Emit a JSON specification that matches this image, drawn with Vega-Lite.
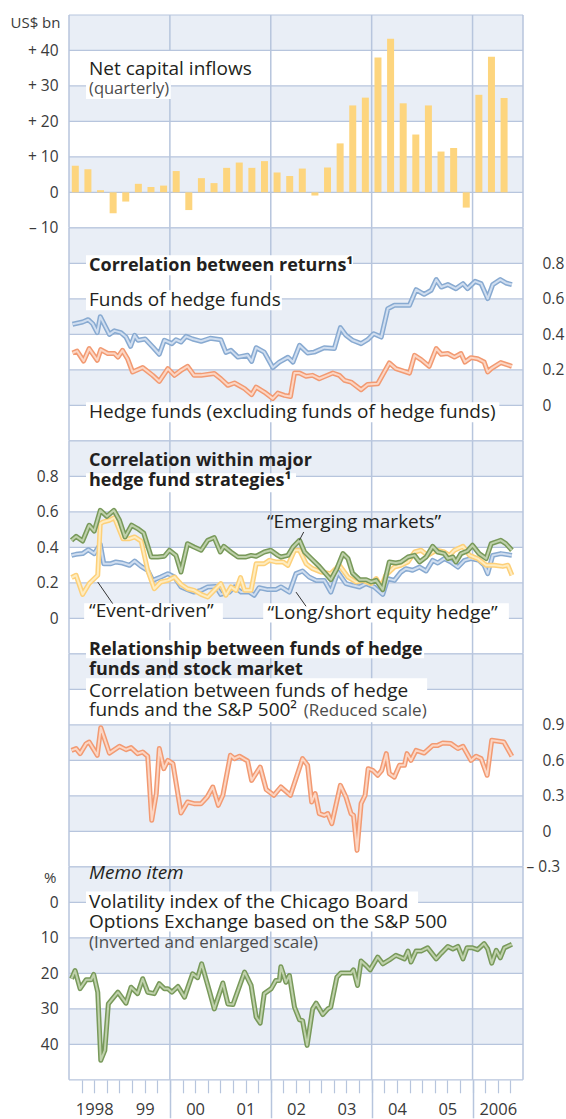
{
  "$schema": "https://vega.github.io/schema/vega-lite/v6.json",
  "padding": {"left": 9, "top": 14, "right": 3, "bottom": 0},
  "background": "white",
  "spacing": 0,
  "bounds": "flush",
  "config": {
    "view": {"stroke": null},
    "axis": {"labelFont": "Open Sans", "labelFontSize": 15.5, "labelColor": "#3a3a3a", "titleFont": "Open Sans", "titleFontSize": 15, "titleFontWeight": "normal", "titleColor": "#3a3a3a", "domain": false, "ticks": false, "grid": false},
    "text": {"font": "Open Sans"}
  },
  "datasets": {
    "one": [{}],
    "bars": [
      {"t": 1998.125, "v": 7.5}, {"t": 1998.375, "v": 6.5}, {"t": 1998.625, "v": 0.6}, {"t": 1998.875, "v": -5.9},
      {"t": 1999.125, "v": -2.6}, {"t": 1999.375, "v": 2.4}, {"t": 1999.625, "v": 1.5}, {"t": 1999.875, "v": 1.9},
      {"t": 2000.125, "v": 6.0}, {"t": 2000.375, "v": -5.0}, {"t": 2000.625, "v": 4.0}, {"t": 2000.875, "v": 2.6},
      {"t": 2001.125, "v": 6.9}, {"t": 2001.375, "v": 8.4}, {"t": 2001.625, "v": 6.9}, {"t": 2001.875, "v": 8.8},
      {"t": 2002.125, "v": 5.6}, {"t": 2002.375, "v": 4.6}, {"t": 2002.625, "v": 6.7}, {"t": 2002.875, "v": -0.9},
      {"t": 2003.125, "v": 7.0}, {"t": 2003.375, "v": 13.8}, {"t": 2003.625, "v": 24.5}, {"t": 2003.875, "v": 26.7},
      {"t": 2004.125, "v": 38.0}, {"t": 2004.375, "v": 43.3}, {"t": 2004.625, "v": 25.1}, {"t": 2004.875, "v": 16.3},
      {"t": 2005.125, "v": 24.5}, {"t": 2005.375, "v": 11.5}, {"t": 2005.625, "v": 12.5}, {"t": 2005.875, "v": -4.3},
      {"t": 2006.125, "v": 27.5}, {"t": 2006.375, "v": 38.2}, {"t": 2006.625, "v": 26.6}
    ],
    "p2": [
      {"s": "FoHF", "t": 1998.07, "v": 0.457}, {"s": "FoHF", "t": 1998.27, "v": 0.47}, {"s": "FoHF", "t": 1998.38, "v": 0.483}, {"s": "FoHF", "t": 1998.47, "v": 0.46}, {"s": "FoHF", "t": 1998.56, "v": 0.41}, {"s": "FoHF", "t": 1998.62, "v": 0.5}, {"s": "FoHF", "t": 1998.8, "v": 0.4}, {"s": "FoHF", "t": 1998.9, "v": 0.42}, {"s": "FoHF", "t": 1999.03, "v": 0.41}, {"s": "FoHF", "t": 1999.13, "v": 0.385}, {"s": "FoHF", "t": 1999.22, "v": 0.333}, {"s": "FoHF", "t": 1999.3, "v": 0.395}, {"s": "FoHF", "t": 1999.37, "v": 0.367}, {"s": "FoHF", "t": 1999.51, "v": 0.374}, {"s": "FoHF", "t": 1999.66, "v": 0.329}, {"s": "FoHF", "t": 1999.79, "v": 0.288}, {"s": "FoHF", "t": 1999.89, "v": 0.367}, {"s": "FoHF", "t": 2000.04, "v": 0.348}, {"s": "FoHF", "t": 2000.12, "v": 0.37}, {"s": "FoHF", "t": 2000.22, "v": 0.357}, {"s": "FoHF", "t": 2000.32, "v": 0.389}, {"s": "FoHF", "t": 2000.45, "v": 0.374}, {"s": "FoHF", "t": 2000.62, "v": 0.361}, {"s": "FoHF", "t": 2000.8, "v": 0.378}, {"s": "FoHF", "t": 2001.01, "v": 0.37}, {"s": "FoHF", "t": 2001.11, "v": 0.299}, {"s": "FoHF", "t": 2001.21, "v": 0.31}, {"s": "FoHF", "t": 2001.35, "v": 0.272}, {"s": "FoHF", "t": 2001.54, "v": 0.282}, {"s": "FoHF", "t": 2001.62, "v": 0.248}, {"s": "FoHF", "t": 2001.71, "v": 0.325}, {"s": "FoHF", "t": 2001.87, "v": 0.3}, {"s": "FoHF", "t": 2002.04, "v": 0.213}, {"s": "FoHF", "t": 2002.17, "v": 0.244}, {"s": "FoHF", "t": 2002.34, "v": 0.271}, {"s": "FoHF", "t": 2002.44, "v": 0.244}, {"s": "FoHF", "t": 2002.57, "v": 0.338}, {"s": "FoHF", "t": 2002.73, "v": 0.295}, {"s": "FoHF", "t": 2002.86, "v": 0.3}, {"s": "FoHF", "t": 2003.06, "v": 0.325}, {"s": "FoHF", "t": 2003.26, "v": 0.32}, {"s": "FoHF", "t": 2003.38, "v": 0.438}, {"s": "FoHF", "t": 2003.49, "v": 0.395}, {"s": "FoHF", "t": 2003.62, "v": 0.367}, {"s": "FoHF", "t": 2003.79, "v": 0.348}, {"s": "FoHF", "t": 2003.92, "v": 0.37}, {"s": "FoHF", "t": 2004.04, "v": 0.404}, {"s": "FoHF", "t": 2004.19, "v": 0.385}, {"s": "FoHF", "t": 2004.32, "v": 0.545}, {"s": "FoHF", "t": 2004.45, "v": 0.564}, {"s": "FoHF", "t": 2004.75, "v": 0.564}, {"s": "FoHF", "t": 2004.88, "v": 0.652}, {"s": "FoHF", "t": 2005.04, "v": 0.626}, {"s": "FoHF", "t": 2005.18, "v": 0.649}, {"s": "FoHF", "t": 2005.28, "v": 0.709}, {"s": "FoHF", "t": 2005.38, "v": 0.667}, {"s": "FoHF", "t": 2005.51, "v": 0.681}, {"s": "FoHF", "t": 2005.67, "v": 0.658}, {"s": "FoHF", "t": 2005.81, "v": 0.686}, {"s": "FoHF", "t": 2005.9, "v": 0.658}, {"s": "FoHF", "t": 2006.05, "v": 0.699}, {"s": "FoHF", "t": 2006.17, "v": 0.686}, {"s": "FoHF", "t": 2006.3, "v": 0.602}, {"s": "FoHF", "t": 2006.4, "v": 0.681}, {"s": "FoHF", "t": 2006.55, "v": 0.709}, {"s": "FoHF", "t": 2006.66, "v": 0.69}, {"s": "FoHF", "t": 2006.78, "v": 0.681},
      {"s": "HF", "t": 1998.07, "v": 0.295}, {"s": "HF", "t": 1998.16, "v": 0.306}, {"s": "HF", "t": 1998.29, "v": 0.25}, {"s": "HF", "t": 1998.4, "v": 0.32}, {"s": "HF", "t": 1998.56, "v": 0.254}, {"s": "HF", "t": 1998.63, "v": 0.314}, {"s": "HF", "t": 1998.77, "v": 0.292}, {"s": "HF", "t": 1998.9, "v": 0.292}, {"s": "HF", "t": 1998.97, "v": 0.272}, {"s": "HF", "t": 1999.06, "v": 0.31}, {"s": "HF", "t": 1999.16, "v": 0.263}, {"s": "HF", "t": 1999.26, "v": 0.188}, {"s": "HF", "t": 1999.46, "v": 0.213}, {"s": "HF", "t": 1999.66, "v": 0.169}, {"s": "HF", "t": 1999.79, "v": 0.135}, {"s": "HF", "t": 1999.96, "v": 0.207}, {"s": "HF", "t": 2000.09, "v": 0.169}, {"s": "HF", "t": 2000.22, "v": 0.197}, {"s": "HF", "t": 2000.35, "v": 0.22}, {"s": "HF", "t": 2000.48, "v": 0.169}, {"s": "HF", "t": 2000.62, "v": 0.169}, {"s": "HF", "t": 2000.88, "v": 0.179}, {"s": "HF", "t": 2001.01, "v": 0.15}, {"s": "HF", "t": 2001.15, "v": 0.113}, {"s": "HF", "t": 2001.28, "v": 0.126}, {"s": "HF", "t": 2001.48, "v": 0.094}, {"s": "HF", "t": 2001.62, "v": 0.06}, {"s": "HF", "t": 2001.71, "v": 0.103}, {"s": "HF", "t": 2001.87, "v": 0.075}, {"s": "HF", "t": 2002.04, "v": 0.038}, {"s": "HF", "t": 2002.14, "v": 0.069}, {"s": "HF", "t": 2002.27, "v": 0.056}, {"s": "HF", "t": 2002.39, "v": 0.05}, {"s": "HF", "t": 2002.47, "v": 0.182}, {"s": "HF", "t": 2002.57, "v": 0.182}, {"s": "HF", "t": 2002.7, "v": 0.164}, {"s": "HF", "t": 2002.83, "v": 0.169}, {"s": "HF", "t": 2002.96, "v": 0.15}, {"s": "HF", "t": 2003.23, "v": 0.182}, {"s": "HF", "t": 2003.36, "v": 0.169}, {"s": "HF", "t": 2003.46, "v": 0.141}, {"s": "HF", "t": 2003.59, "v": 0.131}, {"s": "HF", "t": 2003.79, "v": 0.088}, {"s": "HF", "t": 2003.92, "v": 0.118}, {"s": "HF", "t": 2004.12, "v": 0.122}, {"s": "HF", "t": 2004.35, "v": 0.239}, {"s": "HF", "t": 2004.48, "v": 0.207}, {"s": "HF", "t": 2004.75, "v": 0.182}, {"s": "HF", "t": 2004.85, "v": 0.282}, {"s": "HF", "t": 2004.98, "v": 0.258}, {"s": "HF", "t": 2005.14, "v": 0.22}, {"s": "HF", "t": 2005.28, "v": 0.32}, {"s": "HF", "t": 2005.38, "v": 0.288}, {"s": "HF", "t": 2005.51, "v": 0.292}, {"s": "HF", "t": 2005.64, "v": 0.272}, {"s": "HF", "t": 2005.77, "v": 0.292}, {"s": "HF", "t": 2005.85, "v": 0.244}, {"s": "HF", "t": 2005.97, "v": 0.269}, {"s": "HF", "t": 2006.1, "v": 0.263}, {"s": "HF", "t": 2006.23, "v": 0.244}, {"s": "HF", "t": 2006.3, "v": 0.188}, {"s": "HF", "t": 2006.37, "v": 0.207}, {"s": "HF", "t": 2006.56, "v": 0.241}, {"s": "HF", "t": 2006.78, "v": 0.22}
    ],
    "p3": [
      {"s": "LS", "t": 1998.05, "v": 0.355}, {"s": "LS", "t": 1998.14, "v": 0.361}, {"s": "LS", "t": 1998.27, "v": 0.365}, {"s": "LS", "t": 1998.38, "v": 0.387}, {"s": "LS", "t": 1998.5, "v": 0.365}, {"s": "LS", "t": 1998.62, "v": 0.417}, {"s": "LS", "t": 1998.69, "v": 0.308}, {"s": "LS", "t": 1998.83, "v": 0.308}, {"s": "LS", "t": 1998.93, "v": 0.318}, {"s": "LS", "t": 1999.06, "v": 0.312}, {"s": "LS", "t": 1999.2, "v": 0.299}, {"s": "LS", "t": 1999.3, "v": 0.323}, {"s": "LS", "t": 1999.43, "v": 0.293}, {"s": "LS", "t": 1999.56, "v": 0.271}, {"s": "LS", "t": 1999.66, "v": 0.214}, {"s": "LS", "t": 1999.82, "v": 0.233}, {"s": "LS", "t": 1999.96, "v": 0.252}, {"s": "LS", "t": 2000.09, "v": 0.233}, {"s": "LS", "t": 2000.22, "v": 0.177}, {"s": "LS", "t": 2000.35, "v": 0.162}, {"s": "LS", "t": 2000.48, "v": 0.148}, {"s": "LS", "t": 2000.62, "v": 0.158}, {"s": "LS", "t": 2000.75, "v": 0.177}, {"s": "LS", "t": 2000.91, "v": 0.18}, {"s": "LS", "t": 2001.01, "v": 0.135}, {"s": "LS", "t": 2001.18, "v": 0.148}, {"s": "LS", "t": 2001.28, "v": 0.177}, {"s": "LS", "t": 2001.41, "v": 0.148}, {"s": "LS", "t": 2001.58, "v": 0.148}, {"s": "LS", "t": 2001.67, "v": 0.13}, {"s": "LS", "t": 2001.77, "v": 0.173}, {"s": "LS", "t": 2001.94, "v": 0.162}, {"s": "LS", "t": 2002.1, "v": 0.162}, {"s": "LS", "t": 2002.2, "v": 0.177}, {"s": "LS", "t": 2002.37, "v": 0.148}, {"s": "LS", "t": 2002.5, "v": 0.252}, {"s": "LS", "t": 2002.63, "v": 0.267}, {"s": "LS", "t": 2002.76, "v": 0.233}, {"s": "LS", "t": 2002.9, "v": 0.214}, {"s": "LS", "t": 2003.06, "v": 0.214}, {"s": "LS", "t": 2003.19, "v": 0.148}, {"s": "LS", "t": 2003.33, "v": 0.261}, {"s": "LS", "t": 2003.49, "v": 0.196}, {"s": "LS", "t": 2003.62, "v": 0.186}, {"s": "LS", "t": 2003.76, "v": 0.177}, {"s": "LS", "t": 2003.89, "v": 0.196}, {"s": "LS", "t": 2004.05, "v": 0.177}, {"s": "LS", "t": 2004.22, "v": 0.135}, {"s": "LS", "t": 2004.32, "v": 0.224}, {"s": "LS", "t": 2004.45, "v": 0.214}, {"s": "LS", "t": 2004.58, "v": 0.261}, {"s": "LS", "t": 2004.68, "v": 0.28}, {"s": "LS", "t": 2004.81, "v": 0.271}, {"s": "LS", "t": 2004.95, "v": 0.289}, {"s": "LS", "t": 2005.08, "v": 0.267}, {"s": "LS", "t": 2005.21, "v": 0.327}, {"s": "LS", "t": 2005.31, "v": 0.312}, {"s": "LS", "t": 2005.44, "v": 0.337}, {"s": "LS", "t": 2005.57, "v": 0.318}, {"s": "LS", "t": 2005.71, "v": 0.289}, {"s": "LS", "t": 2005.84, "v": 0.327}, {"s": "LS", "t": 2005.97, "v": 0.337}, {"s": "LS", "t": 2006.13, "v": 0.327}, {"s": "LS", "t": 2006.23, "v": 0.299}, {"s": "LS", "t": 2006.3, "v": 0.252}, {"s": "LS", "t": 2006.4, "v": 0.355}, {"s": "LS", "t": 2006.56, "v": 0.365}, {"s": "LS", "t": 2006.78, "v": 0.355},
      {"s": "ED", "t": 1998.05, "v": 0.23}, {"s": "ED", "t": 1998.14, "v": 0.243}, {"s": "ED", "t": 1998.27, "v": 0.135}, {"s": "ED", "t": 1998.4, "v": 0.196}, {"s": "ED", "t": 1998.57, "v": 0.243}, {"s": "ED", "t": 1998.62, "v": 0.534}, {"s": "ED", "t": 1998.67, "v": 0.543}, {"s": "ED", "t": 1998.8, "v": 0.553}, {"s": "ED", "t": 1998.9, "v": 0.568}, {"s": "ED", "t": 1999.07, "v": 0.449}, {"s": "ED", "t": 1999.2, "v": 0.449}, {"s": "ED", "t": 1999.3, "v": 0.459}, {"s": "ED", "t": 1999.43, "v": 0.436}, {"s": "ED", "t": 1999.56, "v": 0.271}, {"s": "ED", "t": 1999.69, "v": 0.167}, {"s": "ED", "t": 1999.82, "v": 0.205}, {"s": "ED", "t": 1999.96, "v": 0.214}, {"s": "ED", "t": 2000.09, "v": 0.233}, {"s": "ED", "t": 2000.22, "v": 0.192}, {"s": "ED", "t": 2000.35, "v": 0.167}, {"s": "ED", "t": 2000.48, "v": 0.158}, {"s": "ED", "t": 2000.62, "v": 0.135}, {"s": "ED", "t": 2000.75, "v": 0.12}, {"s": "ED", "t": 2000.88, "v": 0.158}, {"s": "ED", "t": 2001.01, "v": 0.196}, {"s": "ED", "t": 2001.11, "v": 0.13}, {"s": "ED", "t": 2001.21, "v": 0.177}, {"s": "ED", "t": 2001.31, "v": 0.158}, {"s": "ED", "t": 2001.4, "v": 0.23}, {"s": "ED", "t": 2001.48, "v": 0.158}, {"s": "ED", "t": 2001.61, "v": 0.158}, {"s": "ED", "t": 2001.71, "v": 0.308}, {"s": "ED", "t": 2001.87, "v": 0.308}, {"s": "ED", "t": 2001.97, "v": 0.327}, {"s": "ED", "t": 2002.1, "v": 0.318}, {"s": "ED", "t": 2002.24, "v": 0.318}, {"s": "ED", "t": 2002.34, "v": 0.299}, {"s": "ED", "t": 2002.47, "v": 0.384}, {"s": "ED", "t": 2002.57, "v": 0.384}, {"s": "ED", "t": 2002.7, "v": 0.308}, {"s": "ED", "t": 2002.83, "v": 0.28}, {"s": "ED", "t": 2003.0, "v": 0.261}, {"s": "ED", "t": 2003.19, "v": 0.252}, {"s": "ED", "t": 2003.36, "v": 0.299}, {"s": "ED", "t": 2003.53, "v": 0.233}, {"s": "ED", "t": 2003.69, "v": 0.205}, {"s": "ED", "t": 2003.82, "v": 0.214}, {"s": "ED", "t": 2003.99, "v": 0.196}, {"s": "ED", "t": 2004.09, "v": 0.224}, {"s": "ED", "t": 2004.19, "v": 0.177}, {"s": "ED", "t": 2004.28, "v": 0.243}, {"s": "ED", "t": 2004.45, "v": 0.289}, {"s": "ED", "t": 2004.58, "v": 0.299}, {"s": "ED", "t": 2004.72, "v": 0.318}, {"s": "ED", "t": 2004.85, "v": 0.374}, {"s": "ED", "t": 2004.98, "v": 0.384}, {"s": "ED", "t": 2005.11, "v": 0.355}, {"s": "ED", "t": 2005.28, "v": 0.384}, {"s": "ED", "t": 2005.44, "v": 0.374}, {"s": "ED", "t": 2005.54, "v": 0.355}, {"s": "ED", "t": 2005.64, "v": 0.384}, {"s": "ED", "t": 2005.81, "v": 0.406}, {"s": "ED", "t": 2005.94, "v": 0.355}, {"s": "ED", "t": 2006.1, "v": 0.337}, {"s": "ED", "t": 2006.27, "v": 0.299}, {"s": "ED", "t": 2006.43, "v": 0.299}, {"s": "ED", "t": 2006.6, "v": 0.293}, {"s": "ED", "t": 2006.7, "v": 0.299}, {"s": "ED", "t": 2006.78, "v": 0.243},
      {"s": "EM", "t": 1998.05, "v": 0.44}, {"s": "EM", "t": 1998.14, "v": 0.462}, {"s": "EM", "t": 1998.27, "v": 0.436}, {"s": "EM", "t": 1998.4, "v": 0.525}, {"s": "EM", "t": 1998.5, "v": 0.492}, {"s": "EM", "t": 1998.62, "v": 0.609}, {"s": "EM", "t": 1998.75, "v": 0.575}, {"s": "EM", "t": 1998.89, "v": 0.609}, {"s": "EM", "t": 1999.0, "v": 0.553}, {"s": "EM", "t": 1999.11, "v": 0.459}, {"s": "EM", "t": 1999.24, "v": 0.525}, {"s": "EM", "t": 1999.36, "v": 0.506}, {"s": "EM", "t": 1999.48, "v": 0.481}, {"s": "EM", "t": 1999.63, "v": 0.346}, {"s": "EM", "t": 1999.76, "v": 0.346}, {"s": "EM", "t": 1999.89, "v": 0.35}, {"s": "EM", "t": 1999.99, "v": 0.384}, {"s": "EM", "t": 2000.12, "v": 0.355}, {"s": "EM", "t": 2000.22, "v": 0.261}, {"s": "EM", "t": 2000.35, "v": 0.421}, {"s": "EM", "t": 2000.48, "v": 0.402}, {"s": "EM", "t": 2000.62, "v": 0.384}, {"s": "EM", "t": 2000.75, "v": 0.44}, {"s": "EM", "t": 2000.88, "v": 0.455}, {"s": "EM", "t": 2001.0, "v": 0.374}, {"s": "EM", "t": 2001.07, "v": 0.406}, {"s": "EM", "t": 2001.21, "v": 0.374}, {"s": "EM", "t": 2001.35, "v": 0.346}, {"s": "EM", "t": 2001.51, "v": 0.346}, {"s": "EM", "t": 2001.61, "v": 0.355}, {"s": "EM", "t": 2001.71, "v": 0.35}, {"s": "EM", "t": 2001.87, "v": 0.374}, {"s": "EM", "t": 2002.0, "v": 0.384}, {"s": "EM", "t": 2002.14, "v": 0.355}, {"s": "EM", "t": 2002.2, "v": 0.346}, {"s": "EM", "t": 2002.34, "v": 0.355}, {"s": "EM", "t": 2002.44, "v": 0.402}, {"s": "EM", "t": 2002.57, "v": 0.44}, {"s": "EM", "t": 2002.67, "v": 0.374}, {"s": "EM", "t": 2002.8, "v": 0.337}, {"s": "EM", "t": 2002.96, "v": 0.293}, {"s": "EM", "t": 2003.19, "v": 0.218}, {"s": "EM", "t": 2003.31, "v": 0.28}, {"s": "EM", "t": 2003.43, "v": 0.365}, {"s": "EM", "t": 2003.53, "v": 0.337}, {"s": "EM", "t": 2003.62, "v": 0.255}, {"s": "EM", "t": 2003.76, "v": 0.218}, {"s": "EM", "t": 2003.89, "v": 0.218}, {"s": "EM", "t": 2003.99, "v": 0.205}, {"s": "EM", "t": 2004.09, "v": 0.214}, {"s": "EM", "t": 2004.22, "v": 0.162}, {"s": "EM", "t": 2004.35, "v": 0.318}, {"s": "EM", "t": 2004.48, "v": 0.312}, {"s": "EM", "t": 2004.58, "v": 0.318}, {"s": "EM", "t": 2004.72, "v": 0.346}, {"s": "EM", "t": 2004.85, "v": 0.355}, {"s": "EM", "t": 2004.95, "v": 0.318}, {"s": "EM", "t": 2005.08, "v": 0.346}, {"s": "EM", "t": 2005.21, "v": 0.406}, {"s": "EM", "t": 2005.31, "v": 0.374}, {"s": "EM", "t": 2005.44, "v": 0.365}, {"s": "EM", "t": 2005.51, "v": 0.337}, {"s": "EM", "t": 2005.61, "v": 0.346}, {"s": "EM", "t": 2005.67, "v": 0.318}, {"s": "EM", "t": 2005.77, "v": 0.365}, {"s": "EM", "t": 2005.9, "v": 0.38}, {"s": "EM", "t": 2006.0, "v": 0.412}, {"s": "EM", "t": 2006.13, "v": 0.365}, {"s": "EM", "t": 2006.27, "v": 0.337}, {"s": "EM", "t": 2006.37, "v": 0.421}, {"s": "EM", "t": 2006.56, "v": 0.44}, {"s": "EM", "t": 2006.66, "v": 0.421}, {"s": "EM", "t": 2006.78, "v": 0.384}
    ],
    "p4": [
      {"t": 1998.05, "v": 0.685}, {"t": 1998.14, "v": 0.7}, {"t": 1998.22, "v": 0.657}, {"t": 1998.34, "v": 0.742}, {"t": 1998.4, "v": 0.755}, {"t": 1998.56, "v": 0.643}, {"t": 1998.63, "v": 0.877}, {"t": 1998.8, "v": 0.662}, {"t": 1999.0, "v": 0.719}, {"t": 1999.13, "v": 0.691}, {"t": 1999.23, "v": 0.708}, {"t": 1999.36, "v": 0.657}, {"t": 1999.46, "v": 0.671}, {"t": 1999.56, "v": 0.635}, {"t": 1999.64, "v": 0.093}, {"t": 1999.73, "v": 0.319}, {"t": 1999.79, "v": 0.7}, {"t": 1999.88, "v": 0.53}, {"t": 1999.96, "v": 0.6}, {"t": 2000.06, "v": 0.573}, {"t": 2000.22, "v": 0.155}, {"t": 2000.35, "v": 0.248}, {"t": 2000.48, "v": 0.234}, {"t": 2000.62, "v": 0.234}, {"t": 2000.74, "v": 0.29}, {"t": 2000.85, "v": 0.375}, {"t": 2000.96, "v": 0.22}, {"t": 2001.05, "v": 0.305}, {"t": 2001.2, "v": 0.643}, {"t": 2001.28, "v": 0.615}, {"t": 2001.38, "v": 0.635}, {"t": 2001.54, "v": 0.595}, {"t": 2001.62, "v": 0.431}, {"t": 2001.79, "v": 0.544}, {"t": 2001.91, "v": 0.353}, {"t": 2002.06, "v": 0.305}, {"t": 2002.2, "v": 0.375}, {"t": 2002.39, "v": 0.305}, {"t": 2002.63, "v": 0.615}, {"t": 2002.73, "v": 0.558}, {"t": 2002.81, "v": 0.248}, {"t": 2002.88, "v": 0.319}, {"t": 2002.96, "v": 0.15}, {"t": 2003.06, "v": 0.135}, {"t": 2003.13, "v": 0.15}, {"t": 2003.21, "v": 0.065}, {"t": 2003.38, "v": 0.389}, {"t": 2003.49, "v": 0.29}, {"t": 2003.59, "v": 0.15}, {"t": 2003.64, "v": 0.135}, {"t": 2003.71, "v": -0.161}, {"t": 2003.79, "v": 0.234}, {"t": 2003.87, "v": 0.305}, {"t": 2003.93, "v": 0.53}, {"t": 2004.02, "v": 0.516}, {"t": 2004.12, "v": 0.474}, {"t": 2004.2, "v": 0.516}, {"t": 2004.29, "v": 0.657}, {"t": 2004.35, "v": 0.488}, {"t": 2004.45, "v": 0.459}, {"t": 2004.55, "v": 0.558}, {"t": 2004.65, "v": 0.558}, {"t": 2004.7, "v": 0.657}, {"t": 2004.78, "v": 0.6}, {"t": 2004.88, "v": 0.685}, {"t": 2005.04, "v": 0.662}, {"t": 2005.21, "v": 0.727}, {"t": 2005.31, "v": 0.727}, {"t": 2005.41, "v": 0.747}, {"t": 2005.57, "v": 0.742}, {"t": 2005.71, "v": 0.7}, {"t": 2005.81, "v": 0.719}, {"t": 2005.97, "v": 0.6}, {"t": 2006.07, "v": 0.635}, {"t": 2006.17, "v": 0.615}, {"t": 2006.29, "v": 0.474}, {"t": 2006.38, "v": 0.77}, {"t": 2006.62, "v": 0.755}, {"t": 2006.78, "v": 0.635}
    ],
    "p5": [
      {"t": 1998.05, "v": 21.5}, {"t": 1998.12, "v": 19.2}, {"t": 1998.22, "v": 24.3}, {"t": 1998.34, "v": 21.8}, {"t": 1998.44, "v": 21.8}, {"t": 1998.49, "v": 20.3}, {"t": 1998.57, "v": 25.3}, {"t": 1998.63, "v": 44.5}, {"t": 1998.71, "v": 41.7}, {"t": 1998.78, "v": 28.6}, {"t": 1998.97, "v": 25.3}, {"t": 1999.13, "v": 28.4}, {"t": 1999.23, "v": 23.9}, {"t": 1999.36, "v": 25.7}, {"t": 1999.46, "v": 21.5}, {"t": 1999.56, "v": 25.3}, {"t": 1999.69, "v": 25.7}, {"t": 1999.79, "v": 22.9}, {"t": 1999.89, "v": 24.3}, {"t": 1999.96, "v": 24.3}, {"t": 2000.04, "v": 25.3}, {"t": 2000.16, "v": 23.7}, {"t": 2000.29, "v": 26.7}, {"t": 2000.45, "v": 20.1}, {"t": 2000.55, "v": 21.2}, {"t": 2000.63, "v": 17.3}, {"t": 2000.78, "v": 24.8}, {"t": 2000.88, "v": 30.0}, {"t": 2001.05, "v": 22.7}, {"t": 2001.15, "v": 28.6}, {"t": 2001.25, "v": 28.8}, {"t": 2001.48, "v": 19.6}, {"t": 2001.61, "v": 23.4}, {"t": 2001.71, "v": 32.3}, {"t": 2001.79, "v": 34.0}, {"t": 2001.87, "v": 25.7}, {"t": 2002.01, "v": 24.3}, {"t": 2002.1, "v": 22.0}, {"t": 2002.17, "v": 22.0}, {"t": 2002.2, "v": 18.1}, {"t": 2002.3, "v": 22.5}, {"t": 2002.37, "v": 20.6}, {"t": 2002.47, "v": 29.5}, {"t": 2002.57, "v": 33.1}, {"t": 2002.63, "v": 33.3}, {"t": 2002.72, "v": 40.3}, {"t": 2002.83, "v": 30.0}, {"t": 2002.9, "v": 28.4}, {"t": 2003.03, "v": 31.6}, {"t": 2003.13, "v": 30.0}, {"t": 2003.19, "v": 29.5}, {"t": 2003.31, "v": 21.1}, {"t": 2003.39, "v": 19.9}, {"t": 2003.59, "v": 19.9}, {"t": 2003.64, "v": 19.0}, {"t": 2003.72, "v": 23.4}, {"t": 2003.79, "v": 16.5}, {"t": 2003.89, "v": 17.8}, {"t": 2003.97, "v": 19.0}, {"t": 2004.12, "v": 15.4}, {"t": 2004.22, "v": 17.3}, {"t": 2004.35, "v": 16.2}, {"t": 2004.48, "v": 14.9}, {"t": 2004.65, "v": 15.9}, {"t": 2004.72, "v": 13.7}, {"t": 2004.78, "v": 16.8}, {"t": 2004.88, "v": 13.7}, {"t": 2004.98, "v": 13.7}, {"t": 2005.11, "v": 12.8}, {"t": 2005.28, "v": 15.9}, {"t": 2005.38, "v": 14.3}, {"t": 2005.51, "v": 12.4}, {"t": 2005.61, "v": 13.1}, {"t": 2005.71, "v": 12.4}, {"t": 2005.81, "v": 15.9}, {"t": 2005.89, "v": 12.8}, {"t": 2006.0, "v": 12.8}, {"t": 2006.1, "v": 13.3}, {"t": 2006.23, "v": 11.6}, {"t": 2006.3, "v": 13.1}, {"t": 2006.38, "v": 17.1}, {"t": 2006.47, "v": 13.5}, {"t": 2006.55, "v": 15.6}, {"t": 2006.63, "v": 12.8}, {"t": 2006.78, "v": 11.8}
    ],
    "vgrid": [{"t": 1998}, {"t": 2000}, {"t": 2002}, {"t": 2004}, {"t": 2006}, {"t": 2007}]
  },
  "vconcat": [
    {
      "width": 454, "height": 212.8,
      "layer": [
        {"data": {"values": [{"lo": 40, "hi": 50}, {"lo": 20, "hi": 30}, {"lo": 0, "hi": 10}]}, "mark": {"type": "rect", "fill": "#e9eef6"},
         "encoding": {"x": {"datum": 1998, "type": "quantitative", "scale": {"domain": [1998, 2007], "nice": false, "zero": false, "padding": 0}, "axis": null}, "x2": {"datum": 2007},
                      "y": {"field": "lo", "type": "quantitative", "scale": {"domain": [-10, 50], "nice": false, "zero": false}}, "y2": {"field": "hi"}}},
        {"data": {"values": [{"v": -10}, {"v": 0}, {"v": 10}, {"v": 20}, {"v": 30}, {"v": 40}, {"v": 50}]}, "mark": {"type": "rule", "color": "#b7c5dd", "strokeWidth": 1.2},
         "encoding": {"y": {"field": "v", "type": "quantitative", "scale": {"domain": [-10, 50], "nice": false, "zero": false},
           "axis": {"orient": "left", "values": [-10, 0, 10, 20, 30, 40], "labelPadding": 11, "labelExpr": "datum.value > 0 ? '+ ' + datum.value : (datum.value < 0 ? '– ' + (-datum.value) : '0')", "title": "US$ bn", "titleAngle": 0, "titleAlign": "right", "titleBaseline": "middle", "titleX": -9, "titleY": 7}}}},
        {"data": {"name": "vgrid"}, "mark": {"type": "rule", "color": "#b7c5dd", "strokeWidth": 1.5},
         "encoding": {"x": {"field": "t", "type": "quantitative", "scale": {"domain": [1998, 2007], "nice": false, "zero": false, "padding": 0}, "axis": null}}},
        {"data": {"name": "one"}, "mark": {"type": "rect", "fill": "white"},
         "encoding": {"x": {"datum": 1998.337, "type": "quantitative", "scale": {"domain": [1998, 2007], "nice": false, "zero": false, "padding": 0}, "axis": null}, "x2": {"datum": 2001.72},
                      "y": {"datum": 31.96, "type": "quantitative", "scale": {"domain": [-10, 50], "nice": false, "zero": false}}, "y2": {"datum": 39.85}}},
        {"data": {"name": "one"}, "mark": {"type": "rect", "fill": "white"},
         "encoding": {"x": {"datum": 1998.337, "type": "quantitative", "scale": {"domain": [1998, 2007], "nice": false, "zero": false, "padding": 0}, "axis": null}, "x2": {"datum": 2000.02},
                      "y": {"datum": 26.32, "type": "quantitative", "scale": {"domain": [-10, 50], "nice": false, "zero": false}}, "y2": {"datum": 31.96}}},
        {"data": {"name": "bars"}, "mark": {"type": "bar", "color": "#fdd57e", "size": 7},
         "encoding": {"x": {"field": "t", "type": "quantitative", "scale": {"domain": [1998, 2007], "nice": false, "zero": false, "padding": 0}, "axis": null},
                      "y": {"field": "v", "type": "quantitative", "scale": {"domain": [-10, 50], "nice": false, "zero": false}}}},
        {"data": {"name": "one"}, "mark": {"type": "text", "align": "left", "baseline": "alphabetic", "fontSize": 19, "color": "#231f20", "text": "Net capital inflows"},
         "encoding": {"x": {"datum": 1998.397, "type": "quantitative", "scale": {"domain": [1998, 2007], "nice": false, "zero": false, "padding": 0}, "axis": null},
                      "y": {"datum": 33.0, "type": "quantitative", "scale": {"domain": [-10, 50], "nice": false, "zero": false}}}},
        {"data": {"name": "one"}, "mark": {"type": "text", "align": "left", "baseline": "alphabetic", "fontSize": 16.5, "color": "#4d4d4d", "text": "(quarterly)"},
         "encoding": {"x": {"datum": 1998.397, "type": "quantitative", "scale": {"domain": [1998, 2007], "nice": false, "zero": false, "padding": 0}, "axis": null},
                      "y": {"datum": 27.6, "type": "quantitative", "scale": {"domain": [-10, 50], "nice": false, "zero": false}}}}
      ]
    },
    {
      "width": 454, "height": 212.8,
      "layer": [
        {"data": {"values": [{"lo": 0.8, "hi": 1.0}, {"lo": 0.4, "hi": 0.6}, {"lo": 0.0, "hi": 0.2}]}, "mark": {"type": "rect", "fill": "#e9eef6"},
         "encoding": {"x": {"datum": 1998, "type": "quantitative", "scale": {"domain": [1998, 2007], "nice": false, "zero": false, "padding": 0}, "axis": null}, "x2": {"datum": 2007},
                      "y": {"field": "lo", "type": "quantitative", "scale": {"domain": [-0.2, 1.0], "nice": false, "zero": false}}, "y2": {"field": "hi"}}},
        {"data": {"values": [{"v": -0.2}, {"v": 0}, {"v": 0.2}, {"v": 0.4}, {"v": 0.6}, {"v": 0.8}, {"v": 1.0}]}, "mark": {"type": "rule", "color": "#b7c5dd", "strokeWidth": 1.2},
         "encoding": {"y": {"field": "v", "type": "quantitative", "scale": {"domain": [-0.2, 1.0], "nice": false, "zero": false},
           "axis": {"orient": "right", "values": [0, 0.2, 0.4, 0.6, 0.8], "labelAlign": "left", "labelPadding": 19, "labelExpr": "datum.value == 0 ? '0' : format(datum.value, '.1f')", "title": null}}}},
        {"data": {"name": "vgrid"}, "mark": {"type": "rule", "color": "#b7c5dd", "strokeWidth": 1.5},
         "encoding": {"x": {"field": "t", "type": "quantitative", "scale": {"domain": [1998, 2007], "nice": false, "zero": false, "padding": 0}, "axis": null}}},
        {"data": {"name": "one"}, "mark": {"type": "rect", "fill": "white"},
         "encoding": {"x": {"datum": 1998.337, "type": "quantitative", "scale": {"domain": [1998, 2007], "nice": false, "zero": false, "padding": 0}, "axis": null}, "x2": {"datum": 2003.63},
                      "y": {"datum": 0.733, "type": "quantitative", "scale": {"domain": [-0.2, 1.0], "nice": false, "zero": false}}, "y2": {"datum": 0.846}}},
        {"data": {"name": "one"}, "mark": {"type": "rect", "fill": "white"},
         "encoding": {"x": {"datum": 1998.337, "type": "quantitative", "scale": {"domain": [1998, 2007], "nice": false, "zero": false, "padding": 0}, "axis": null}, "x2": {"datum": 2002.22},
                      "y": {"datum": 0.536, "type": "quantitative", "scale": {"domain": [-0.2, 1.0], "nice": false, "zero": false}}, "y2": {"datum": 0.649}}},
        {"data": {"name": "one"}, "mark": {"type": "rect", "fill": "white"},
         "encoding": {"x": {"datum": 1998.337, "type": "quantitative", "scale": {"domain": [1998, 2007], "nice": false, "zero": false, "padding": 0}, "axis": null}, "x2": {"datum": 2006.53},
                      "y": {"datum": -0.096, "type": "quantitative", "scale": {"domain": [-0.2, 1.0], "nice": false, "zero": false}}, "y2": {"datum": 0.017}}},
        {"data": {"name": "p2"}, "transform": [{"filter": "datum.s == 'FoHF'"}], "mark": {"type": "line", "color": "#88aad1", "strokeWidth": 5, "strokeJoin": "round"},
         "encoding": {"x": {"field": "t", "type": "quantitative", "scale": {"domain": [1998, 2007], "nice": false, "zero": false, "padding": 0}, "axis": null},
                      "y": {"field": "v", "type": "quantitative", "scale": {"domain": [-0.2, 1.0], "nice": false, "zero": false}}}},
        {"data": {"name": "p2"}, "transform": [{"filter": "datum.s == 'FoHF'"}], "mark": {"type": "line", "color": "#d0def0", "strokeWidth": 2, "strokeJoin": "round"},
         "encoding": {"x": {"field": "t", "type": "quantitative", "scale": {"domain": [1998, 2007], "nice": false, "zero": false, "padding": 0}, "axis": null},
                      "y": {"field": "v", "type": "quantitative", "scale": {"domain": [-0.2, 1.0], "nice": false, "zero": false}}}},
        {"data": {"name": "p2"}, "transform": [{"filter": "datum.s == 'HF'"}], "mark": {"type": "line", "color": "#f29a72", "strokeWidth": 5, "strokeJoin": "round"},
         "encoding": {"x": {"field": "t", "type": "quantitative", "scale": {"domain": [1998, 2007], "nice": false, "zero": false, "padding": 0}, "axis": null},
                      "y": {"field": "v", "type": "quantitative", "scale": {"domain": [-0.2, 1.0], "nice": false, "zero": false}}}},
        {"data": {"name": "p2"}, "transform": [{"filter": "datum.s == 'HF'"}], "mark": {"type": "line", "color": "#fcd6c4", "strokeWidth": 2, "strokeJoin": "round"},
         "encoding": {"x": {"field": "t", "type": "quantitative", "scale": {"domain": [1998, 2007], "nice": false, "zero": false, "padding": 0}, "axis": null},
                      "y": {"field": "v", "type": "quantitative", "scale": {"domain": [-0.2, 1.0], "nice": false, "zero": false}}}},
        {"data": {"name": "one"}, "mark": {"type": "text", "align": "left", "baseline": "alphabetic", "fontSize": 18, "fontWeight": "bold", "color": "#231f20", "text": "Correlation between returns¹"},
         "encoding": {"x": {"datum": 1998.397, "type": "quantitative", "scale": {"domain": [1998, 2007], "nice": false, "zero": false, "padding": 0}, "axis": null},
                      "y": {"datum": 0.757, "type": "quantitative", "scale": {"domain": [-0.2, 1.0], "nice": false, "zero": false}}}},
        {"data": {"name": "one"}, "mark": {"type": "text", "align": "left", "baseline": "alphabetic", "fontSize": 19, "color": "#231f20", "text": "Funds of hedge funds"},
         "encoding": {"x": {"datum": 1998.397, "type": "quantitative", "scale": {"domain": [1998, 2007], "nice": false, "zero": false, "padding": 0}, "axis": null},
                      "y": {"datum": 0.56, "type": "quantitative", "scale": {"domain": [-0.2, 1.0], "nice": false, "zero": false}}}},
        {"data": {"name": "one"}, "mark": {"type": "text", "align": "left", "baseline": "alphabetic", "fontSize": 19, "color": "#231f20", "text": "Hedge funds (excluding funds of hedge funds)"},
         "encoding": {"x": {"datum": 1998.397, "type": "quantitative", "scale": {"domain": [1998, 2007], "nice": false, "zero": false, "padding": 0}, "axis": null},
                      "y": {"datum": -0.0716, "type": "quantitative", "scale": {"domain": [-0.2, 1.0], "nice": false, "zero": false}}}}
      ]
    },
    {
      "width": 454, "height": 212.8,
      "layer": [
        {"data": {"values": [{"lo": 0.8, "hi": 1.0}, {"lo": 0.4, "hi": 0.6}, {"lo": 0.0, "hi": 0.2}]}, "mark": {"type": "rect", "fill": "#e9eef6"},
         "encoding": {"x": {"datum": 1998, "type": "quantitative", "scale": {"domain": [1998, 2007], "nice": false, "zero": false, "padding": 0}, "axis": null}, "x2": {"datum": 2007},
                      "y": {"field": "lo", "type": "quantitative", "scale": {"domain": [-0.2, 1.0], "nice": false, "zero": false}}, "y2": {"field": "hi"}}},
        {"data": {"values": [{"v": -0.2}, {"v": 0}, {"v": 0.2}, {"v": 0.4}, {"v": 0.6}, {"v": 0.8}, {"v": 1.0}]}, "mark": {"type": "rule", "color": "#b7c5dd", "strokeWidth": 1.2},
         "encoding": {"y": {"field": "v", "type": "quantitative", "scale": {"domain": [-0.2, 1.0], "nice": false, "zero": false},
           "axis": {"orient": "left", "values": [0, 0.2, 0.4, 0.6, 0.8], "labelPadding": 11, "labelExpr": "datum.value == 0 ? '0' : format(datum.value, '.1f')", "title": null}}}},
        {"data": {"name": "vgrid"}, "mark": {"type": "rule", "color": "#b7c5dd", "strokeWidth": 1.5},
         "encoding": {"x": {"field": "t", "type": "quantitative", "scale": {"domain": [1998, 2007], "nice": false, "zero": false, "padding": 0}, "axis": null}}},
        {"data": {"name": "one"}, "mark": {"type": "rect", "fill": "white"},
         "encoding": {"x": {"datum": 1998.337, "type": "quantitative", "scale": {"domain": [1998, 2007], "nice": false, "zero": false, "padding": 0}, "axis": null}, "x2": {"datum": 2002.5},
                      "y": {"datum": 0.711, "type": "quantitative", "scale": {"domain": [-0.2, 1.0], "nice": false, "zero": false}}, "y2": {"datum": 0.818}}},
        {"data": {"name": "one"}, "mark": {"type": "rect", "fill": "white"},
         "encoding": {"x": {"datum": 1998.3, "type": "quantitative", "scale": {"domain": [1998, 2007], "nice": false, "zero": false, "padding": 0}, "axis": null}, "x2": {"datum": 2001.05},
                      "y": {"datum": -0.023, "type": "quantitative", "scale": {"domain": [-0.2, 1.0], "nice": false, "zero": false}}, "y2": {"datum": 0.085}}},
        {"data": {"name": "one"}, "mark": {"type": "rect", "fill": "white"},
         "encoding": {"x": {"datum": 2001.85, "type": "quantitative", "scale": {"domain": [1998, 2007], "nice": false, "zero": false, "padding": 0}, "axis": null}, "x2": {"datum": 2006.72},
                      "y": {"datum": -0.023, "type": "quantitative", "scale": {"domain": [-0.2, 1.0], "nice": false, "zero": false}}, "y2": {"datum": 0.085}}},
        {"data": {"name": "p3"}, "transform": [{"filter": "datum.s == 'LS'"}], "mark": {"type": "line", "color": "#88aad1", "strokeWidth": 5, "strokeJoin": "round"},
         "encoding": {"x": {"field": "t", "type": "quantitative", "scale": {"domain": [1998, 2007], "nice": false, "zero": false, "padding": 0}, "axis": null},
                      "y": {"field": "v", "type": "quantitative", "scale": {"domain": [-0.2, 1.0], "nice": false, "zero": false}}}},
        {"data": {"name": "p3"}, "transform": [{"filter": "datum.s == 'LS'"}], "mark": {"type": "line", "color": "#d0def0", "strokeWidth": 2, "strokeJoin": "round"},
         "encoding": {"x": {"field": "t", "type": "quantitative", "scale": {"domain": [1998, 2007], "nice": false, "zero": false, "padding": 0}, "axis": null},
                      "y": {"field": "v", "type": "quantitative", "scale": {"domain": [-0.2, 1.0], "nice": false, "zero": false}}}},
        {"data": {"name": "p3"}, "transform": [{"filter": "datum.s == 'ED'"}], "mark": {"type": "line", "color": "#fdd079", "strokeWidth": 5, "strokeJoin": "round"},
         "encoding": {"x": {"field": "t", "type": "quantitative", "scale": {"domain": [1998, 2007], "nice": false, "zero": false, "padding": 0}, "axis": null},
                      "y": {"field": "v", "type": "quantitative", "scale": {"domain": [-0.2, 1.0], "nice": false, "zero": false}}}},
        {"data": {"name": "p3"}, "transform": [{"filter": "datum.s == 'ED'"}], "mark": {"type": "line", "color": "#feecc0", "strokeWidth": 2, "strokeJoin": "round"},
         "encoding": {"x": {"field": "t", "type": "quantitative", "scale": {"domain": [1998, 2007], "nice": false, "zero": false, "padding": 0}, "axis": null},
                      "y": {"field": "v", "type": "quantitative", "scale": {"domain": [-0.2, 1.0], "nice": false, "zero": false}}}},
        {"data": {"name": "p3"}, "transform": [{"filter": "datum.s == 'EM'"}], "mark": {"type": "line", "color": "#78995a", "strokeWidth": 5, "strokeJoin": "round"},
         "encoding": {"x": {"field": "t", "type": "quantitative", "scale": {"domain": [1998, 2007], "nice": false, "zero": false, "padding": 0}, "axis": null},
                      "y": {"field": "v", "type": "quantitative", "scale": {"domain": [-0.2, 1.0], "nice": false, "zero": false}}}},
        {"data": {"name": "p3"}, "transform": [{"filter": "datum.s == 'EM'"}], "mark": {"type": "line", "color": "#bfd1ab", "strokeWidth": 2, "strokeJoin": "round"},
         "encoding": {"x": {"field": "t", "type": "quantitative", "scale": {"domain": [1998, 2007], "nice": false, "zero": false, "padding": 0}, "axis": null},
                      "y": {"field": "v", "type": "quantitative", "scale": {"domain": [-0.2, 1.0], "nice": false, "zero": false}}}},
        {"data": {"name": "one"}, "mark": {"type": "rule", "color": "#333333", "strokeWidth": 1},
         "encoding": {"x": {"datum": 1998.569, "type": "quantitative", "scale": {"domain": [1998, 2007], "nice": false, "zero": false, "padding": 0}, "axis": null}, "x2": {"datum": 1998.866},
                      "y": {"datum": 0.205, "type": "quantitative", "scale": {"domain": [-0.2, 1.0], "nice": false, "zero": false}}, "y2": {"datum": 0.083}}},
        {"data": {"name": "one"}, "mark": {"type": "rule", "color": "#333333", "strokeWidth": 1},
         "encoding": {"x": {"datum": 2002.653, "type": "quantitative", "scale": {"domain": [1998, 2007], "nice": false, "zero": false, "padding": 0}, "axis": null}, "x2": {"datum": 2002.566},
                      "y": {"datum": 0.487, "type": "quantitative", "scale": {"domain": [-0.2, 1.0], "nice": false, "zero": false}}, "y2": {"datum": 0.44}}},
        {"data": {"name": "one"}, "mark": {"type": "rule", "color": "#333333", "strokeWidth": 1},
         "encoding": {"x": {"datum": 2002.5, "type": "quantitative", "scale": {"domain": [1998, 2007], "nice": false, "zero": false, "padding": 0}, "axis": null}, "x2": {"datum": 2002.699},
                      "y": {"datum": 0.148, "type": "quantitative", "scale": {"domain": [-0.2, 1.0], "nice": false, "zero": false}}, "y2": {"datum": 0.068}}},
        {"data": {"name": "one"}, "mark": {"type": "text", "align": "left", "baseline": "alphabetic", "fontSize": 18, "fontWeight": "bold", "color": "#231f20", "text": "Correlation within major"},
         "encoding": {"x": {"datum": 1998.397, "type": "quantitative", "scale": {"domain": [1998, 2007], "nice": false, "zero": false, "padding": 0}, "axis": null},
                      "y": {"datum": 0.859, "type": "quantitative", "scale": {"domain": [-0.2, 1.0], "nice": false, "zero": false}}}},
        {"data": {"name": "one"}, "mark": {"type": "text", "align": "left", "baseline": "alphabetic", "fontSize": 18, "fontWeight": "bold", "color": "#231f20", "text": "hedge fund strategies¹"},
         "encoding": {"x": {"datum": 1998.397, "type": "quantitative", "scale": {"domain": [1998, 2007], "nice": false, "zero": false, "padding": 0}, "axis": null},
                      "y": {"datum": 0.746, "type": "quantitative", "scale": {"domain": [-0.2, 1.0], "nice": false, "zero": false}}}},
        {"data": {"name": "one"}, "mark": {"type": "text", "align": "left", "baseline": "alphabetic", "fontSize": 19, "color": "#231f20", "text": "“Emerging markets”"},
         "encoding": {"x": {"datum": 2001.925, "type": "quantitative", "scale": {"domain": [1998, 2007], "nice": false, "zero": false, "padding": 0}, "axis": null},
                      "y": {"datum": 0.509, "type": "quantitative", "scale": {"domain": [-0.2, 1.0], "nice": false, "zero": false}}}},
        {"data": {"name": "one"}, "mark": {"type": "text", "align": "left", "baseline": "alphabetic", "fontSize": 19, "color": "#231f20", "text": "“Event-driven”"},
         "encoding": {"x": {"datum": 1998.397, "type": "quantitative", "scale": {"domain": [1998, 2007], "nice": false, "zero": false, "padding": 0}, "axis": null},
                      "y": {"datum": 0.0073, "type": "quantitative", "scale": {"domain": [-0.2, 1.0], "nice": false, "zero": false}}}},
        {"data": {"name": "one"}, "mark": {"type": "text", "align": "left", "baseline": "alphabetic", "fontSize": 19, "color": "#231f20", "text": "“Long/short equity hedge”"},
         "encoding": {"x": {"datum": 2001.935, "type": "quantitative", "scale": {"domain": [1998, 2007], "nice": false, "zero": false, "padding": 0}, "axis": null},
                      "y": {"datum": -0.002, "type": "quantitative", "scale": {"domain": [-0.2, 1.0], "nice": false, "zero": false}}}}
      ]
    },
    {
      "width": 454, "height": 212.8,
      "layer": [
        {"data": {"values": [{"lo": 1.2, "hi": 1.5}, {"lo": 0.6, "hi": 0.9}, {"lo": 0.0, "hi": 0.3}]}, "mark": {"type": "rect", "fill": "#e9eef6"},
         "encoding": {"x": {"datum": 1998, "type": "quantitative", "scale": {"domain": [1998, 2007], "nice": false, "zero": false, "padding": 0}, "axis": null}, "x2": {"datum": 2007},
                      "y": {"field": "lo", "type": "quantitative", "scale": {"domain": [-0.3, 1.5], "nice": false, "zero": false}}, "y2": {"field": "hi"}}},
        {"data": {"values": [{"v": -0.3}, {"v": 0}, {"v": 0.3}, {"v": 0.6}, {"v": 0.9}, {"v": 1.2}, {"v": 1.5}]}, "mark": {"type": "rule", "color": "#b7c5dd", "strokeWidth": 1.2},
         "encoding": {"y": {"field": "v", "type": "quantitative", "scale": {"domain": [-0.3, 1.5], "nice": false, "zero": false},
           "axis": {"orient": "right", "values": [-0.3, 0, 0.3, 0.6, 0.9], "labelAlign": "left", "labelPadding": {"condition": {"test": "datum.value < 0", "value": 3}, "value": 19}, "labelExpr": "datum.value < 0 ? '– 0.3' : (datum.value == 0 ? '0' : format(datum.value, '.1f'))", "title": null}}}},
        {"data": {"name": "vgrid"}, "mark": {"type": "rule", "color": "#b7c5dd", "strokeWidth": 1.5},
         "encoding": {"x": {"field": "t", "type": "quantitative", "scale": {"domain": [1998, 2007], "nice": false, "zero": false, "padding": 0}, "axis": null}}},
        {"data": {"name": "one"}, "mark": {"type": "rect", "fill": "white"},
         "encoding": {"x": {"datum": 1998.337, "type": "quantitative", "scale": {"domain": [1998, 2007], "nice": false, "zero": false, "padding": 0}, "axis": null}, "x2": {"datum": 2005.04},
                      "y": {"datum": 1.464, "type": "quantitative", "scale": {"domain": [-0.3, 1.5], "nice": false, "zero": false}}, "y2": {"datum": 1.616}}},
        {"data": {"name": "one"}, "mark": {"type": "rect", "fill": "white"},
         "encoding": {"x": {"datum": 1998.337, "type": "quantitative", "scale": {"domain": [1998, 2007], "nice": false, "zero": false, "padding": 0}, "axis": null}, "x2": {"datum": 2005.1},
                      "y": {"datum": 0.922, "type": "quantitative", "scale": {"domain": [-0.3, 1.5], "nice": false, "zero": false}}, "y2": {"datum": 1.294}}},
        {"data": {"name": "p4"}, "mark": {"type": "line", "color": "#f29a72", "strokeWidth": 5, "strokeJoin": "round"},
         "encoding": {"x": {"field": "t", "type": "quantitative", "scale": {"domain": [1998, 2007], "nice": false, "zero": false, "padding": 0}, "axis": null},
                      "y": {"field": "v", "type": "quantitative", "scale": {"domain": [-0.3, 1.5], "nice": false, "zero": false}}}},
        {"data": {"name": "p4"}, "mark": {"type": "line", "color": "#fcd6c4", "strokeWidth": 2, "strokeJoin": "round"},
         "encoding": {"x": {"field": "t", "type": "quantitative", "scale": {"domain": [1998, 2007], "nice": false, "zero": false, "padding": 0}, "axis": null},
                      "y": {"field": "v", "type": "quantitative", "scale": {"domain": [-0.3, 1.5], "nice": false, "zero": false}}}},
        {"data": {"name": "one"}, "mark": {"type": "text", "align": "left", "baseline": "alphabetic", "fontSize": 18, "fontWeight": "bold", "color": "#231f20", "text": "Relationship between funds of hedge"},
         "encoding": {"x": {"datum": 1998.397, "type": "quantitative", "scale": {"domain": [1998, 2007], "nice": false, "zero": false, "padding": 0}, "axis": null},
                      "y": {"datum": 1.489, "type": "quantitative", "scale": {"domain": [-0.3, 1.5], "nice": false, "zero": false}}}},
        {"data": {"name": "one"}, "mark": {"type": "text", "align": "left", "baseline": "alphabetic", "fontSize": 18, "fontWeight": "bold", "color": "#231f20", "text": "funds and stock market"},
         "encoding": {"x": {"datum": 1998.397, "type": "quantitative", "scale": {"domain": [1998, 2007], "nice": false, "zero": false, "padding": 0}, "axis": null},
                      "y": {"datum": 1.326, "type": "quantitative", "scale": {"domain": [-0.3, 1.5], "nice": false, "zero": false}}}},
        {"data": {"name": "one"}, "mark": {"type": "text", "align": "left", "baseline": "alphabetic", "fontSize": 19, "color": "#231f20", "text": "Correlation between funds of hedge"},
         "encoding": {"x": {"datum": 1998.397, "type": "quantitative", "scale": {"domain": [1998, 2007], "nice": false, "zero": false, "padding": 0}, "axis": null},
                      "y": {"datum": 1.136, "type": "quantitative", "scale": {"domain": [-0.3, 1.5], "nice": false, "zero": false}}}},
        {"data": {"name": "one"}, "mark": {"type": "text", "align": "left", "baseline": "alphabetic", "fontSize": 19, "color": "#231f20", "text": "funds and the S&P 500²"},
         "encoding": {"x": {"datum": 1998.397, "type": "quantitative", "scale": {"domain": [1998, 2007], "nice": false, "zero": false, "padding": 0}, "axis": null},
                      "y": {"datum": 0.973, "type": "quantitative", "scale": {"domain": [-0.3, 1.5], "nice": false, "zero": false}}}},
        {"data": {"name": "one"}, "mark": {"type": "text", "align": "left", "baseline": "alphabetic", "fontSize": 17, "color": "#4d4d4d", "text": "(Reduced scale)"},
         "encoding": {"x": {"datum": 2002.653, "type": "quantitative", "scale": {"domain": [1998, 2007], "nice": false, "zero": false, "padding": 0}, "axis": null},
                      "y": {"datum": 0.973, "type": "quantitative", "scale": {"domain": [-0.3, 1.5], "nice": false, "zero": false}}}}
      ]
    },
    {
      "width": 454, "height": 212.8,
      "resolve": {"axis": {"x": "independent"}},
      "layer": [
        {"data": {"values": [{"lo": -10, "hi": 0}, {"lo": 10, "hi": 20}, {"lo": 30, "hi": 40}]}, "mark": {"type": "rect", "fill": "#e9eef6"},
         "encoding": {"x": {"datum": 1998, "type": "quantitative", "scale": {"domain": [1998, 2007], "nice": false, "zero": false, "padding": 0},
                            "axis": {"orient": "bottom", "title": null, "values": [2000, 2002, 2004, 2006], "ticks": true, "tickSize": 38, "tickWidth": 1.5, "tickColor": "#b7c5dd", "labels": false}}, "x2": {"datum": 2007},
                      "y": {"field": "lo", "type": "quantitative", "scale": {"domain": [-10, 50], "nice": false, "zero": false, "reverse": true}}, "y2": {"field": "hi"}}},
        {"data": {"values": [{"v": -10}, {"v": 0}, {"v": 10}, {"v": 20}, {"v": 30}, {"v": 40}, {"v": 50}]}, "mark": {"type": "rule", "color": "#b7c5dd", "strokeWidth": 1.2},
         "encoding": {"y": {"field": "v", "type": "quantitative", "scale": {"domain": [-10, 50], "nice": false, "zero": false, "reverse": true},
           "axis": {"orient": "left", "values": [0, 10, 20, 30, 40], "labelPadding": 11, "title": "%", "titleAngle": 0, "titleAlign": "right", "titleBaseline": "middle", "titleX": -13, "titleY": 10}}}},
        {"data": {"name": "vgrid"}, "mark": {"type": "rule", "color": "#b7c5dd", "strokeWidth": 1.5},
         "encoding": {"x": {"field": "t", "type": "quantitative", "scale": {"domain": [1998, 2007], "nice": false, "zero": false, "padding": 0},
           "axis": {"orient": "bottom", "title": null, "values": [1998.25, 1998.5, 1998.75, 1999, 1999.25, 1999.5, 1999.75, 2000, 2000.25, 2000.5, 2000.75, 2001, 2001.25, 2001.5, 2001.75, 2002, 2002.25, 2002.5, 2002.75, 2003, 2003.25, 2003.5, 2003.75, 2004, 2004.25, 2004.5, 2004.75, 2005, 2005.25, 2005.5, 2005.75, 2006, 2006.25, 2006.5, 2006.75],
             "ticks": true, "tickColor": "#b7c5dd", "tickWidth": 1.2, "tickSize": 13,
             "labelPadding": 22, "labelBaseline": "alphabetic", "labelFontSize": 16.5, "labelOverlap": false, "labelFlush": false, "labelBound": false,
             "labelExpr": "datum.value == 1998.5 ? '1998' : datum.value == 1999.5 ? '99' : datum.value == 2000.5 ? '00' : datum.value == 2001.5 ? '01' : datum.value == 2002.5 ? '02' : datum.value == 2003.5 ? '03' : datum.value == 2004.5 ? '04' : datum.value == 2005.5 ? '05' : datum.value == 2006.5 ? '2006' : ''"}}}},
        {"data": {"name": "one"}, "mark": {"type": "rect", "fill": "white"},
         "encoding": {"x": {"datum": 1998.337, "type": "quantitative", "scale": {"domain": [1998, 2007], "nice": false, "zero": false, "padding": 0}, "axis": null}, "x2": {"datum": 2004.92},
                      "y": {"datum": -3.1, "type": "quantitative", "scale": {"domain": [-10, 50], "nice": false, "zero": false, "reverse": true}}, "y2": {"datum": 2.5}}},
        {"data": {"name": "one"}, "mark": {"type": "rect", "fill": "white"},
         "encoding": {"x": {"datum": 1998.337, "type": "quantitative", "scale": {"domain": [1998, 2007], "nice": false, "zero": false, "padding": 0}, "axis": null}, "x2": {"datum": 2005.43},
                      "y": {"datum": 2.5, "type": "quantitative", "scale": {"domain": [-10, 50], "nice": false, "zero": false, "reverse": true}}, "y2": {"datum": 8.2}}},
        {"data": {"name": "p5"}, "mark": {"type": "line", "color": "#78995a", "strokeWidth": 5, "strokeJoin": "round"},
         "encoding": {"x": {"field": "t", "type": "quantitative", "scale": {"domain": [1998, 2007], "nice": false, "zero": false, "padding": 0}, "axis": null},
                      "y": {"field": "v", "type": "quantitative", "scale": {"domain": [-10, 50], "nice": false, "zero": false, "reverse": true}}}},
        {"data": {"name": "p5"}, "mark": {"type": "line", "color": "#bfd1ab", "strokeWidth": 2, "strokeJoin": "round"},
         "encoding": {"x": {"field": "t", "type": "quantitative", "scale": {"domain": [1998, 2007], "nice": false, "zero": false, "padding": 0}, "axis": null},
                      "y": {"field": "v", "type": "quantitative", "scale": {"domain": [-10, 50], "nice": false, "zero": false, "reverse": true}}}},
        {"data": {"name": "one"}, "mark": {"type": "text", "align": "left", "baseline": "alphabetic", "fontSize": 19, "fontStyle": "italic", "color": "#231f20", "text": "Memo item"},
         "encoding": {"x": {"datum": 1998.397, "type": "quantitative", "scale": {"domain": [1998, 2007], "nice": false, "zero": false, "padding": 0}, "axis": null},
                      "y": {"datum": -6.68, "type": "quantitative", "scale": {"domain": [-10, 50], "nice": false, "zero": false, "reverse": true}}}},
        {"data": {"name": "one"}, "mark": {"type": "text", "align": "left", "baseline": "alphabetic", "fontSize": 19, "color": "#231f20", "text": "Volatility index of the Chicago Board"},
         "encoding": {"x": {"datum": 1998.397, "type": "quantitative", "scale": {"domain": [1998, 2007], "nice": false, "zero": false, "padding": 0}, "axis": null},
                      "y": {"datum": 1.6, "type": "quantitative", "scale": {"domain": [-10, 50], "nice": false, "zero": false, "reverse": true}}}},
        {"data": {"name": "one"}, "mark": {"type": "text", "align": "left", "baseline": "alphabetic", "fontSize": 19, "color": "#231f20", "text": "Options Exchange based on the S&P 500"},
         "encoding": {"x": {"datum": 1998.397, "type": "quantitative", "scale": {"domain": [1998, 2007], "nice": false, "zero": false, "padding": 0}, "axis": null},
                      "y": {"datum": 7.24, "type": "quantitative", "scale": {"domain": [-10, 50], "nice": false, "zero": false, "reverse": true}}}},
        {"data": {"name": "one"}, "mark": {"type": "text", "align": "left", "baseline": "alphabetic", "fontSize": 17, "color": "#4d4d4d", "text": "(Inverted and enlarged scale)"},
         "encoding": {"x": {"datum": 1998.397, "type": "quantitative", "scale": {"domain": [1998, 2007], "nice": false, "zero": false, "padding": 0}, "axis": null},
                      "y": {"datum": 12.8, "type": "quantitative", "scale": {"domain": [-10, 50], "nice": false, "zero": false, "reverse": true}}}}
      ]
    }
  ]
}
